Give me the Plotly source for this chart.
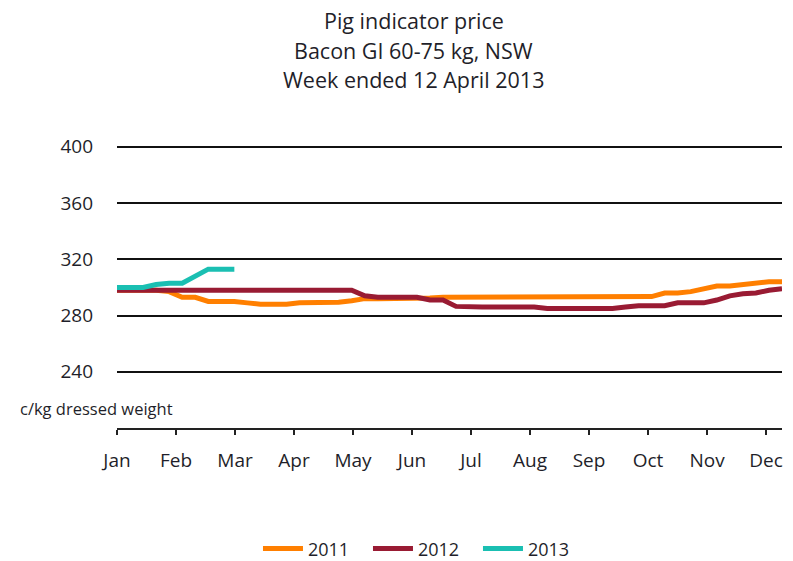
import plotly.graph_objects as go

# ---- data (weekly, index 0 = first week of January) ----
weeks = list(range(52))
price_2011 = [298, 298, 298, 298, 297, 293, 293, 290, 290, 290,
              289, 288, 288, 288, 289, 289, 289, 289.5, 290.5, 292,
              292, 292, 292, 292, 292.5, 293, 293, 293, 293, 293,
              293, 293, 293, 293, 293, 293, 293, 293, 293, 293,
              293, 293.5, 296, 296, 297, 299, 301, 301, 302, 303,
              304, 304]
price_2012 = [298, 298, 298, 298, 298, 298, 298, 298, 298, 298,
              298, 298, 298, 298, 298, 298, 298, 298, 298, 294,
              293, 293, 293, 293, 291, 291, 286.5, 286, 286, 286,
              286, 286, 286, 285, 285, 285, 285, 285, 285, 286,
              287, 287, 287, 289, 289, 289, 291, 294, 295.5, 296,
              298, 299]
price_2013 = [300, 300, 300, 302, 303, 303, 308, 313, 313, 313]
weeks_2013 = weeks[:len(price_2013)]

month_labels = ["Jan", "Feb", "Mar", "Apr", "May", "Jun",
                "Jul", "Aug", "Sep", "Oct", "Nov", "Dec"]
y_ticks = [240, 280, 320, 360, 400]

series = [("2011", weeks, price_2011, "#FF7F00"),
          ("2012", weeks, price_2012, "#991B33"),
          ("2013", weeks_2013, price_2013, "#1ABFB2")]

FONT = "'Open Sans', sans-serif"
TXT = "#1f1f2a"

fig = go.Figure()
for name, xs, ys, col in series:
    fig.add_trace(go.Scatter(x=xs, y=ys, name=name, mode="lines",
                             line=dict(color=col, width=5)))

tick_step = 4.525
fig.update_layout(
    width=793, height=561,
    margin=dict(l=117, r=11, t=144, b=133, autoexpand=False),
    paper_bgcolor="white", plot_bgcolor="white",
    font=dict(family=FONT, size=19, color=TXT),
    showlegend=True,
    legend=dict(orientation="h", x=0.212, xanchor="left",
                y=-0.4255, yanchor="middle",
                font=dict(family=FONT, size=18, color=TXT),
                itemwidth=40, tracegroupgap=0,
                entrywidth=55, entrywidthmode="pixels"),
    xaxis=dict(range=[0, 51], tickmode="array",
               tickvals=[i * tick_step for i in range(12)],
               ticktext=month_labels,
               showgrid=False, zeroline=False,
               showline=True, linecolor="#222", linewidth=1.5,
               ticks="outside", ticklen=5, tickwidth=1.5, tickcolor="#222",
               ticklabelstandoff=9,
               tickfont=dict(family=FONT, size=19, color=TXT)),
    yaxis=dict(range=[200, 402], tickmode="array", tickvals=y_ticks,
               showgrid=True, gridcolor="#111", gridwidth=1.5,
               zeroline=False, showline=False, ticks="",
               ticklabelstandoff=23,
               tickfont=dict(family=FONT, size=19, color=TXT)),
)

titles = ["Pig indicator price", "Bacon GI 60-75 kg, NSW", "Week ended 12 April 2013"]
title_y = [1.435, 1.33, 1.228]
for t, yy in zip(titles, title_y):
    fig.add_annotation(text=t, xref="paper", yref="paper", x=0.4466, y=yy,
                       xanchor="center", yanchor="middle", showarrow=False,
                       font=dict(family=FONT, size=21.5, color=TXT))

fig.add_annotation(text="c/kg dressed weight", xref="paper", yref="paper",
                   x=-0.149, y=0.067, xanchor="left", yanchor="middle",
                   showarrow=False, font=dict(family=FONT, size=16.5, color=TXT))

fig.write_html("out.html",
               config={"displayModeBar": False},
               post_script="document.body.style.margin='0';")
